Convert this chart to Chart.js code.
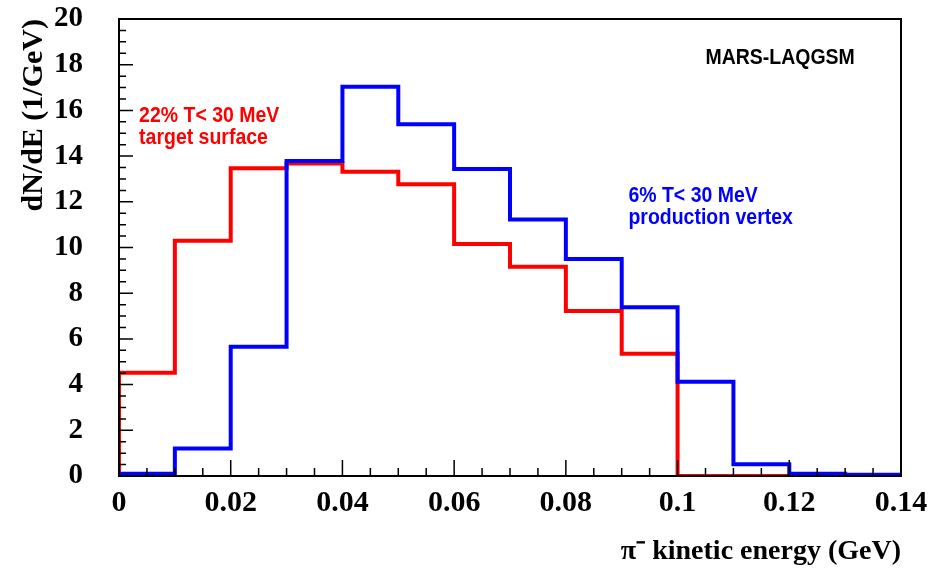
<!DOCTYPE html>
<html lang="en">
<head>
  <meta charset="UTF-8">
  <title>pi- kinetic energy spectrum</title>
  <script src="https://cdn.jsdelivr.net/npm/chart.js"></script>
  <style>
    body { margin: 0; background: #fff; }
    #wrap { width: 942px; height: 573px; }
  </style>
</head>
<body>
  <div id="wrap"><canvas id="spectrum" width="942" height="573"></canvas></div>
  <script>
    // bin edges in GeV, 10 MeV bins
    const binEdges = [0, 0.01, 0.02, 0.03, 0.04, 0.05, 0.06, 0.07, 0.08, 0.09, 0.10, 0.11, 0.12, 0.13, 0.14];
    // dN/dE per bin
    const surfaceCounts = [4.52, 10.3, 13.47, 13.68, 13.32, 12.77, 10.15, 9.16, 7.22, 5.35, 0, 0, 0, 0];
    const vertexCounts = [0.1, 1.2, 5.66, 13.79, 17.04, 15.39, 13.44, 11.23, 9.5, 7.38, 4.13, 0.51, 0.1, 0.05];

    const notes = [
      { text: 'MARS-LAQGSM', x: 0.1050, y: 18.05, color: '#000' },
      { text: '22% T< 30 MeV', x: 0.0036, y: 15.5, color: '#ff0000' },
      { text: 'target surface', x: 0.0036, y: 14.53, color: '#ff0000' },
      { text: '6% T< 30 MeV', x: 0.0912, y: 12.0, color: '#0000ff' },
      { text: 'production vertex', x: 0.0912, y: 11.04, color: '#0000ff' }
    ];

    const serif = '"Liberation Serif", "Times New Roman", serif';

    // histogram outline: left edge of each bin, closed at the last edge
    function histPoints(counts) {
      const pts = [{ x: binEdges[0], y: 0 }];
      counts.forEach((c, i) => pts.push({ x: binEdges[i], y: c }));
      pts.push({ x: binEdges[binEdges.length - 1], y: counts[counts.length - 1] });
      return pts;
    }

    const frame = {
      id: 'frame',
      afterDraw(chart) {
        const { ctx, chartArea: a, scales: { x, y } } = chart;
        ctx.save();
        ctx.strokeStyle = '#000';
        ctx.lineWidth = 1.5;
        ctx.beginPath();
        for (let k = 0; k <= 28; k++) {
          const px = x.getPixelForValue(k * 0.005);
          const len = k % 4 === 0 ? 16 : 8;
          ctx.moveTo(px, a.bottom);
          ctx.lineTo(px, a.bottom - len);
        }
        for (let k = 0; k <= 40; k++) {
          const py = y.getPixelForValue(k * 0.5);
          const len = k % 4 === 0 ? 14 : 7;
          ctx.moveTo(a.left, py);
          ctx.lineTo(a.left + len, py);
        }
        ctx.stroke();
        ctx.lineWidth = 2;
        ctx.strokeRect(a.left, a.top, a.right - a.left, a.bottom - a.top);

        ctx.font = 'bold 22px "Liberation Sans", Arial, sans-serif';
        ctx.textBaseline = 'alphabetic';
        notes.forEach(n => {
          ctx.save();
          ctx.translate(x.getPixelForValue(n.x), y.getPixelForValue(n.y));
          ctx.scale(0.885, 1);
          ctx.fillStyle = n.color;
          ctx.fillText(n.text, 0, 0);
          ctx.restore();
        });
        ctx.restore();
      }
    };

    new Chart(document.getElementById('spectrum'), {
      type: 'line',
      data: {
        datasets: [
          {
            label: 'production vertex',
            data: histPoints(vertexCounts),
            borderColor: '#0000ff',
            borderWidth: 4,
            stepped: 'before',
            pointRadius: 0,
            fill: false,
            order: 0
          },
          {
            label: 'target surface',
            data: histPoints(surfaceCounts),
            borderColor: '#ff0000',
            borderWidth: 4,
            stepped: 'before',
            pointRadius: 0,
            fill: false,
            order: 1
          }
        ]
      },
      options: {
        responsive: false,
        animation: false,
        devicePixelRatio: 1,
        layout: { padding: { top: 19, right: 41, left: 0, bottom: 0 } },
        plugins: { legend: { display: false }, tooltip: { enabled: false } },
        scales: {
          x: {
            type: 'linear',
            min: 0,
            max: 0.14,
            grid: { display: false },
            border: { display: false },
            ticks: {
              stepSize: 0.02,
              padding: 1,
              color: '#000',
              font: { family: serif, size: 30, weight: 'bold' },
              callback: v => String(+v.toFixed(2))
            },
            title: {
              display: true,
              text: 'π⁻ kinetic energy (GeV)',
              align: 'end',
              color: '#000',
              padding: { top: 0, bottom: 4 },
              font: { family: serif, size: 28, weight: 'bold' }
            },
            afterFit: s => { s.height = 97; s.paddingLeft = 0; s.paddingRight = 0; }
          },
          y: {
            min: 0,
            max: 20,
            grid: { display: false },
            border: { display: false },
            ticks: {
              stepSize: 2,
              padding: 28,
              color: '#000',
              font: { family: serif, size: 29, weight: 'bold' }
            },
            title: {
              display: true,
              text: 'dN/dE (1/GeV)',
              align: 'end',
              color: '#000',
              padding: { top: 16, bottom: 0 },
              font: { family: serif, size: 30, weight: 'bold' }
            },
            afterFit: s => { s.width = 119; s.paddingTop = 0; s.paddingBottom = 0; }
          }
        }
      },
      plugins: [frame]
    });
  </script>
</body>
</html>
